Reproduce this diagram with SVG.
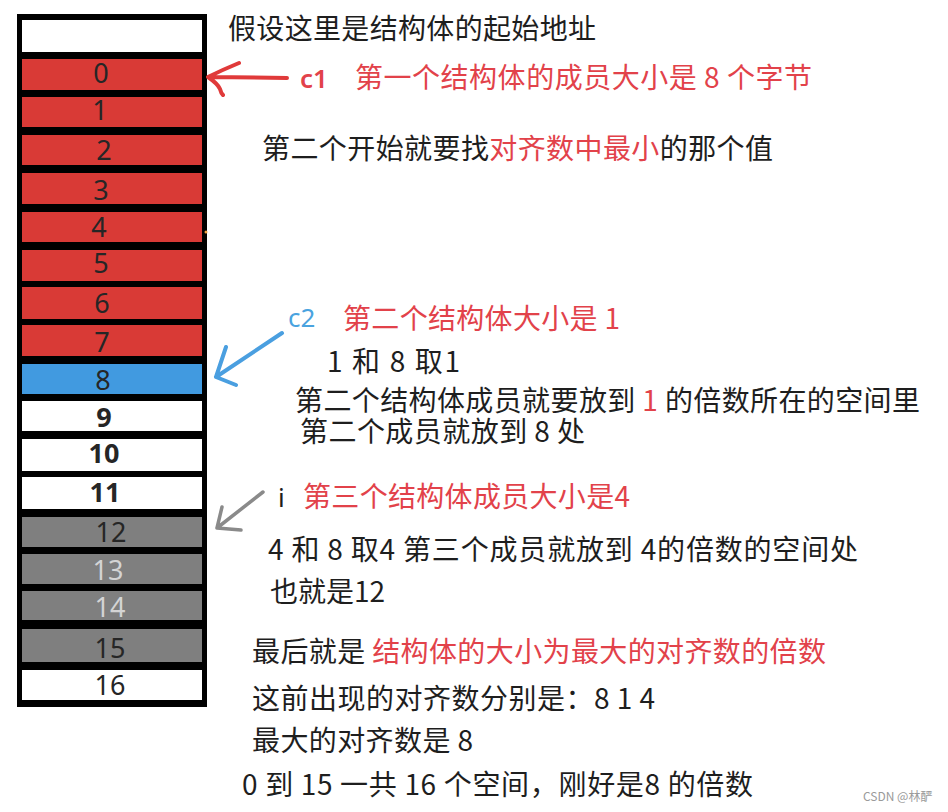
<svg xmlns="http://www.w3.org/2000/svg" width="948" height="812" viewBox="0 0 948 812">
<style>
.red{fill:#d93a36}
.blue{fill:#419ae0}
.gray{fill:#7f7f7f}
.white{fill:#ffffff}
.num{font-family:"Noto Sans","Open Sans","Liberation Sans",sans-serif;font-size:27px;fill:#262626;text-anchor:middle}
.b{font-weight:bold}
.lt{fill:#d4d4d4}
.t{font-family:"Noto Sans CJK SC","Noto Sans",sans-serif;font-size:28px;fill:#1e1e1e}
.r{fill:#e2424a}
.cb{fill:#4aa3df}
.arrow{fill:none;stroke-linecap:round;stroke-linejoin:round}
</style>
<rect width="948" height="812" fill="#ffffff"/>
<g id="column">
<rect x="17" y="14" width="190" height="693" fill="#000000"/>
</g>
<g id="cell-base"><rect class="white" x="22" y="20" width="180" height="32"/></g>
<g id="cell-0"><rect class="red" x="22" y="59" width="180" height="31"/><text class="num" x="101" y="83">0</text></g>
<g id="cell-1"><rect class="red" x="22" y="97" width="180" height="30"/><text class="num" x="100" y="120">1</text></g>
<g id="cell-2"><rect class="red" x="22" y="135" width="180" height="30"/><text class="num" x="104" y="160">2</text></g>
<g id="cell-3"><rect class="red" x="22" y="173" width="180" height="31"/><text class="num" x="101" y="200">3</text></g>
<g id="cell-4"><rect class="red" x="22" y="212" width="180" height="30"/><text class="num" x="99" y="237">4</text><circle cx="206" cy="232" r="1.5" fill="#f0a040"/></g>
<g id="cell-5"><rect class="red" x="22" y="250" width="180" height="31"/><text class="num" x="101" y="273">5</text></g>
<g id="cell-6"><rect class="red" x="22" y="287" width="180" height="32"/><text class="num" x="102" y="313">6</text></g>
<g id="cell-7"><rect class="red" x="22" y="325" width="180" height="31"/><text class="num" x="102" y="352">7</text></g>
<g id="cell-8"><rect class="blue" x="22" y="364" width="180" height="30"/><text class="num" x="103" y="390">8</text></g>
<g id="cell-9"><rect class="white" x="22" y="401" width="180" height="30"/><text class="num b" x="104" y="427">9</text></g>
<g id="cell-10"><rect class="white" x="22" y="439" width="180" height="32"/><text class="num b" x="104" y="463">10</text></g>
<g id="cell-11"><rect class="white" x="22" y="477" width="180" height="32"/><text class="num b" x="105" y="502">11</text></g>
<g id="cell-12"><rect class="gray" x="22" y="517" width="180" height="30"/><text class="num" x="111" y="542">12</text></g>
<g id="cell-13"><rect class="gray" x="22" y="554" width="180" height="30"/><text class="num lt" x="108" y="580">13</text></g>
<g id="cell-14"><rect class="gray" x="22" y="591" width="180" height="29"/><text class="num lt" x="110" y="617">14</text></g>
<g id="cell-15"><rect class="gray" x="22" y="629" width="180" height="33"/><text class="num" x="110" y="658">15</text></g>
<g id="cell-16"><rect class="white" x="22" y="670" width="180" height="30"/><text class="num" x="110" y="695">16</text></g>

<g id="connectors">
<path class="arrow" stroke="#e03a3a" stroke-width="4" d="M287,78 L208,77 M239,63 Q222,70 208,77 Q218,84 220,89 Q221,93 223,95"/>
<path class="arrow" stroke="#4a9fe0" stroke-width="4" d="M282,333 L216,377 M226,347 L216,377 L236,385"/>
<path class="arrow" stroke="#8a8a8a" stroke-width="3.5" d="M263,492 L217,528 M222,507 L217,528 L241,530"/>
</g>

<g id="labels">
<text class="t" x="228" y="39" textLength="368" lengthAdjust="spacing">假设这里是结构体的起始地址</text>
<text x="300" y="88" font-family="Noto Sans,Open Sans,sans-serif" font-size="26" font-weight="600" class="r">c1</text>
<text class="t r" x="355" y="88" textLength="457" lengthAdjust="spacing">第一个结构体的成员大小是 8 个字节</text>
<text class="t" x="262" y="159" textLength="511" lengthAdjust="spacing">第二个开始就要找<tspan class="r">对齐数中最小</tspan>的那个值</text>
<text x="288" y="327" font-family="Noto Sans,Open Sans,sans-serif" font-size="26" class="cb">c2</text>
<text class="t r" x="343" y="329" textLength="277" lengthAdjust="spacing">第二个结构体大小是 1</text>
<text class="t" x="327" y="372" font-size="26" textLength="133" lengthAdjust="spacing">1 和 8  取1</text>
<text class="t" x="295" y="411" font-size="27" textLength="625" lengthAdjust="spacing">第二个结构体成员就要放到 <tspan class="r">1</tspan> 的倍数所在的空间里</text>
<text class="t" x="300" y="442" font-size="27" textLength="285" lengthAdjust="spacing">第二个成员就放到 8 处</text>
<text x="278" y="507" font-family="Noto Sans,Open Sans,sans-serif" font-size="26" fill="#1e1e1e">i</text>
<text class="t r" x="303" y="507" textLength="327" lengthAdjust="spacing">第三个结构体成员大小是4</text>
<text class="t" x="268" y="560" textLength="590" lengthAdjust="spacing">4 和 8  取4  第三个成员就放到 4的倍数的空间处</text>
<text class="t" x="270" y="602" textLength="115" lengthAdjust="spacing">也就是12</text>
<text class="t" x="252" y="662" textLength="574" lengthAdjust="spacing">最后就是 <tspan class="r">结构体的大小为最大的对齐数的倍数</tspan></text>
<text class="t" x="252" y="709" textLength="403" lengthAdjust="spacing">这前出现的对齐数分别是：8 1 4</text>
<text class="t" x="252" y="751" textLength="221" lengthAdjust="spacing">最大的对齐数是 8</text>
<text class="t" x="242" y="795" textLength="511" lengthAdjust="spacing">0 到 15 一共 16 个空间，刚好是8 的倍数</text>
<text x="863" y="801" font-family="Noto Sans CJK SC,Noto Sans,sans-serif" font-size="12" fill="#9a9a9a">CSDN @林酽</text>
</g>
</svg>
